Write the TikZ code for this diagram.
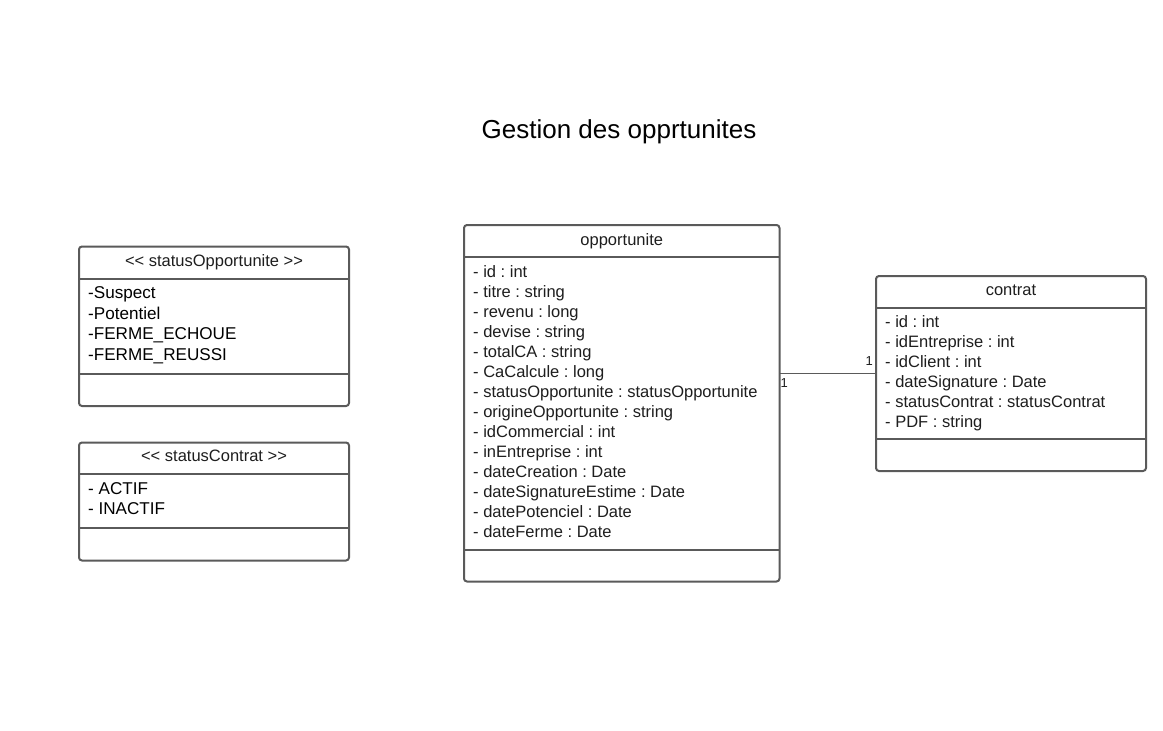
\documentclass[tikz,border=0pt]{standalone}
\usepackage{fontspec}
\setmainfont{Liberation Sans}[Ligatures=TeXOff]
\usetikzlibrary{calc}
\definecolor{edgegray}{HTML}{5A5A5A}
\definecolor{ink}{HTML}{1E1E1E}
\tikzset{
  umlbox/.style={draw=edgegray, line width=2pt, rounded corners=3pt, fill=white,
    inner sep=0pt, outer sep=0pt, anchor=north west},
  divline/.style={draw=edgegray, line width=2pt},
  attr/.style={anchor=base west, inner sep=0pt, text=ink, font=\fontsize{16.5}{20}\selectfont\frenchspacing},
  enumitem/.style={anchor=base west, inner sep=0pt, text=black, font=\fontsize{17.1}{20}\selectfont\frenchspacing},
  hdr/.style={anchor=base, inner sep=0pt, text=ink, font=\fontsize{16.5}{20}\selectfont\frenchspacing},
  titletext/.style={anchor=base, inner sep=0pt, text=black, font=\fontsize{26}{30}\selectfont},
  assoc/.style={draw=edgegray, line width=1.5pt},
  mult/.style={inner sep=0pt, text=ink, font=\fontsize{13}{15}\selectfont}
}
\begin{document}
\begin{tikzpicture}[x=1pt,y=-1pt]
\useasboundingbox[fill=white] (0,0) rectangle (1163,731);

% title
\node[titletext] (title) at (619,138.5) {Gestion des opprtunites};

% statusOpportunite
\node[umlbox, minimum width=270pt, minimum height=159.5pt] (sopp) at (79,246.5) {};
\draw[divline] ($(sopp.north west)+(0,32)$) -- ($(sopp.north east)+(0,32)$);
\draw[divline] ($(sopp.north west)+(0,127.5)$) -- ($(sopp.north east)+(0,127.5)$);
\node[hdr] (sopph) at (214,266.5) {<< statusOpportunite >>};
\node[enumitem] (so1) at (88,298.5) {-Suspect};
\node[enumitem] (so2) at (88,319) {-Potentiel};
\node[enumitem] (so3) at (88,339.5) {-FERME\_ECHOUE};
\node[enumitem] (so4) at (88,360) {-FERME\_REUSSI};

% statusContrat
\node[umlbox, minimum width=270pt, minimum height=118pt] (scon) at (79,442.5) {};
\draw[divline] ($(scon.north west)+(0,31.5)$) -- ($(scon.north east)+(0,31.5)$);
\draw[divline] ($(scon.north west)+(0,85.5)$) -- ($(scon.north east)+(0,85.5)$);
\node[hdr] (sconh) at (214,461.5) {<< statusContrat >>};
\node[enumitem] (sc1) at (88,494) {- ACTIF};
\node[enumitem] (sc2) at (88,514) {- INACTIF};

% opportunite
\node[umlbox, minimum width=315.5pt, minimum height=356.5pt] (opp) at (464,225) {};
\draw[divline] ($(opp.north west)+(0,32)$) -- ($(opp.north east)+(0,32)$);
\draw[divline] ($(opp.north west)+(0,325)$) -- ($(opp.north east)+(0,325)$);
\node[hdr] (opph) at (621.75,245) {opportunite};
\node[attr] (o1) at (473,277) {- id : int};
\node[attr] (o2) at (473,297) {- titre : string};
\node[attr] (o3) at (473,317) {- revenu : long};
\node[attr] (o4) at (473,337) {- devise : string};
\node[attr] (o5) at (473,357) {- totalCA : string};
\node[attr] (o6) at (473,377) {- CaCalcule : long};
\node[attr] (o7) at (473,397) {- statusOpportunite : statusOpportunite};
\node[attr] (o8) at (473,417) {- origineOpportunite : string};
\node[attr] (o9) at (473,437) {- idCommercial : int};
\node[attr] (o10) at (473,457) {- inEntreprise : int};
\node[attr] (o11) at (473,477) {- dateCreation : Date};
\node[attr] (o12) at (473,497) {- dateSignatureEstime : Date};
\node[attr] (o13) at (473,517) {- datePotenciel : Date};
\node[attr] (o14) at (473,537) {- dateFerme : Date};

% contrat
\node[umlbox, minimum width=270pt, minimum height=195pt] (con) at (876,276) {};
\draw[divline] ($(con.north west)+(0,31.5)$) -- ($(con.north east)+(0,31.5)$);
\draw[divline] ($(con.north west)+(0,163)$) -- ($(con.north east)+(0,163)$);
\node[hdr] (conh) at (1011,295.5) {contrat};
\node[attr] (c1) at (885,327) {- id : int};
\node[attr] (c2) at (885,347) {- idEntreprise : int};
\node[attr] (c3) at (885,367) {- idClient : int};
\node[attr] (c4) at (885,387) {- dateSignature : Date};
\node[attr] (c5) at (885,407) {- statusContrat : statusContrat};
\node[attr] (c6) at (885,427) {- PDF : string};

% association
\draw[assoc] (con.west) -- (con.west -| opp.east);
\node[mult, anchor=base east] (m1) at (873,365) {1};
\node[mult, anchor=base west] (m2) at (780.5,387) {1};
\end{tikzpicture}
\end{document}
